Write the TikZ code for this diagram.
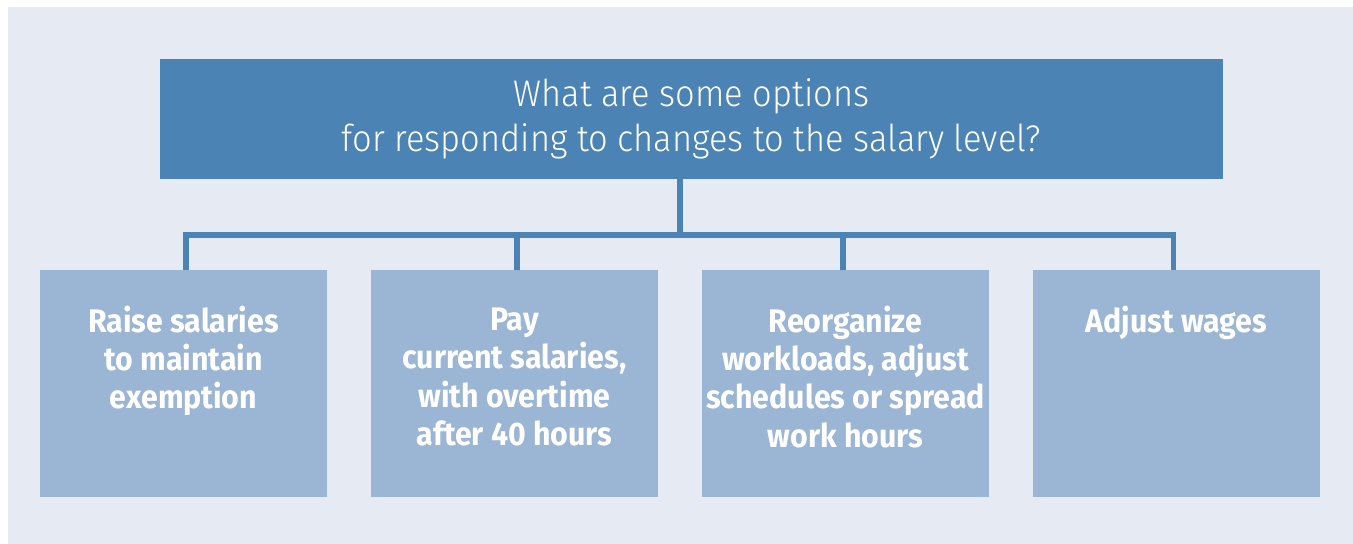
\documentclass[tikz,border=0pt]{standalone}
\usepackage{fontspec}
\setmainfont{Fira Sans}[FakeStretch=0.93]
\newfontfamily\lightfont{Fira Sans Light}[FakeStretch=0.93]
\usetikzlibrary{positioning}
\definecolor{panelbg}{HTML}{E5EAF3}
\definecolor{darkblue}{HTML}{4A83B4}
\definecolor{paleblue}{HTML}{9BB5D4}
\tikzset{
	question/.style={fill=darkblue,text=white,minimum width=531.5pt,minimum height=60pt,align=center,font=\lightfont\fontsize{18.5}{22.6}\selectfont},
	option/.style={fill=paleblue,minimum width=143.5pt,minimum height=113.5pt},
	optiontext/.style={text=white,align=center,inner sep=0pt,anchor=north,font=\bfseries\fontsize{16.3}{19.1}\selectfont},
	link/.style={draw=darkblue,line width=2.75pt}
}
\begin{document}
\begin{tikzpicture}[x=0.5pt,y=-0.5pt]
	\useasboundingbox (0,0) rectangle (1353,544);
	\fill[panelbg] (8,7) rectangle (1353,544);
	\node[question] (q) at (691.5,119) {What are some options\\for responding to changes to the salary level?};
	\coordinate (bar) at (680,235);
	\foreach \i/\x in {1/183.5,2/514.5,3/845.5,4/1176.5}{
			\node[option] (o\i) at (\x,383.5) {};
	}
	\node[optiontext] at ([yshift=-18pt]o1.north) {Raise salaries\\to maintain\\exemption};
	\node[optiontext] at ([yshift=-18pt]o2.north) {\vphantom{l}Pay\\current salaries,\\with overtime\\after 40 hours};
	\node[optiontext] at ([yshift=-18pt]o3.north) {Reorganize\\workloads, adjust\\schedules or spread\\work hours};
	\node[optiontext] at ([yshift=-18pt]o4.north) {Adjust wages};
	% connectors
	\draw[link] (q.south -| bar) -- (bar);
	\draw[link] ([xshift=1.25pt]o1.north) |- ([xshift=-1.5pt]o4.north |- bar) -- ([xshift=-1.5pt]o4.north);
	\draw[link] ([xshift=1.25pt]o2.north) -- ([xshift=1.25pt]o2.north |- bar);
	\draw[link] ([xshift=-1.25pt]o3.north) -- ([xshift=-1.25pt]o3.north |- bar);
\end{tikzpicture}
\end{document}
